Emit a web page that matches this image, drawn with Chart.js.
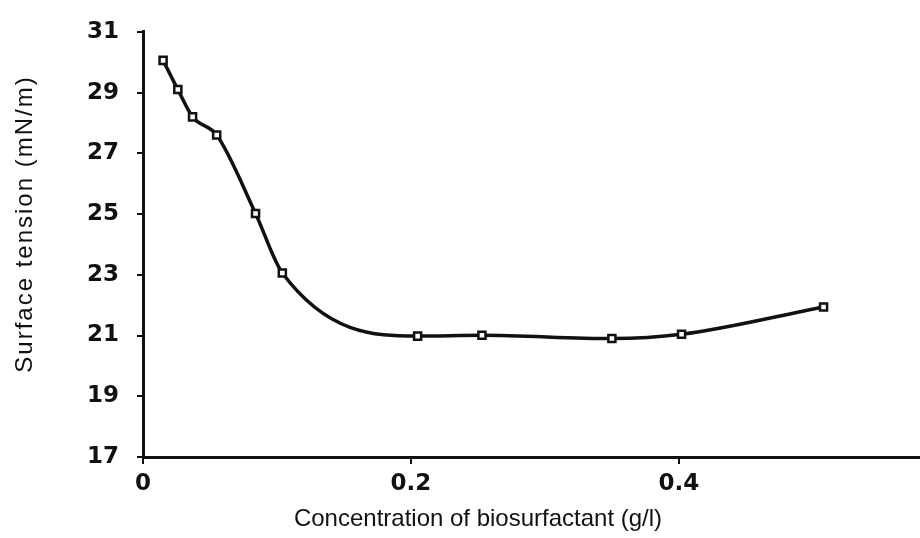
<!DOCTYPE html>
<html>
<head>
<meta charset="utf-8">
<script src="https://cdn.jsdelivr.net/npm/chart.js@4"></script>
<style>
  html, body { margin: 0; padding: 0; background: #fff; }
  canvas { display: block; }
</style>
</head>
<body>
<canvas id="chart" width="920" height="538"></canvas>
<script>
// --- data ---
const concentration = [0.015, 0.026, 0.037, 0.055, 0.084, 0.104, 0.205, 0.253, 0.35, 0.402, 0.508];
const surfaceTension = [30.06, 29.1, 28.2, 27.6, 25.02, 23.06, 20.98, 21.01, 20.9, 21.04, 21.94];

const xTicks = [0, 0.2, 0.4];
const xTickLabels = ['0', '0.2', '0.4'];
const yTicks = [17, 19, 21, 23, 25, 27, 29, 31];

const xTitle = 'Concentration of biosurfactant (g/l)';
const yTitle = 'Surface tension (mN/m)';

const tickFont = { family: '"DejaVu Sans", sans-serif', size: 23, weight: 'bold' };

// axis titles drawn by hand so they sit where the reference puts them
const axisTitles = {
    id: 'axisTitles',
    afterDraw(chart) {
        const ctx = chart.ctx;
        ctx.save();
        ctx.fillStyle = '#111';
        ctx.font = '24px "Liberation Sans", Arial, sans-serif';
        ctx.textAlign = 'center';
        ctx.textBaseline = 'middle';
        ctx.fillText(xTitle, 478, 519);

        ctx.translate(25, 224);
        ctx.rotate(-Math.PI / 2);
        ctx.letterSpacing = '2px';
        ctx.fillText(yTitle, 0, 0);
        ctx.restore();
    }
};

function fixedTicks(values) {
    return (scale) => { scale.ticks = values.map(v => ({ value: v })); };
}

new Chart(document.getElementById('chart').getContext('2d'), {
    type: 'line',
    data: {
        datasets: [{
            data: concentration.map((x, i) => ({ x, y: surfaceTension[i] })),
            borderColor: '#111',
            borderWidth: 3.5,
            pointStyle: 'rect',
            pointRadius: 5,
            pointBorderWidth: 2.5,
            pointBorderColor: '#111',
            pointBackgroundColor: '#fff',
            cubicInterpolationMode: 'monotone',
            fill: false
        }]
    },
    options: {
        responsive: false,
        animation: false,
        layout: { autoPadding: false, padding: { top: 21, right: 0, left: 0, bottom: 0 } },
        plugins: {
            legend: { display: false },
            tooltip: { enabled: false }
        },
        scales: {
            x: {
                type: 'linear',
                min: 0,
                max: 0.58,
                afterBuildTicks: fixedTicks(xTicks),
                afterFit: (s) => { s.height = 81; },
                ticks: {
                    color: '#111',
                    font: tickFont,
                    padding: 6,
                    maxRotation: 0,
                    callback: (v) => xTickLabels[xTicks.indexOf(v)] ?? ''
                },
                grid: { drawOnChartArea: false, drawTicks: true, tickLength: 7, color: '#111', lineWidth: 2 },
                border: { display: true, color: '#111', width: 3 }
            },
            y: {
                min: 17,
                max: 31,
                afterBuildTicks: fixedTicks(yTicks),
                afterFit: (s) => { s.width = 143; },
                ticks: {
                    color: '#111',
                    font: tickFont,
                    padding: 18
                },
                grid: { drawOnChartArea: false, drawTicks: true, tickLength: 6, color: '#111', lineWidth: 2 },
                border: { display: true, color: '#111', width: 3 }
            }
        }
    },
    plugins: [axisTitles]
});
</script>
</body>
</html>
